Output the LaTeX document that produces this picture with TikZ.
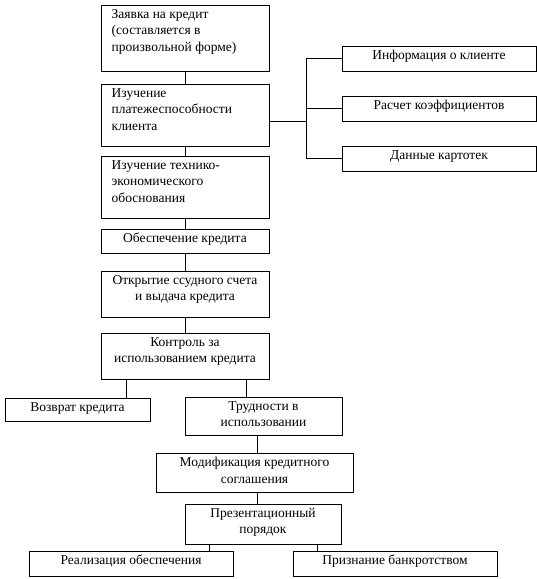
\documentclass[tikz,border=0pt]{standalone}
\usepackage{fontspec}
\setmainfont{Liberation Serif}
\usetikzlibrary{calc}

\begin{document}
\begin{tikzpicture}[x=1pt,y=-1pt,
  every node/.style={font=\fontsize{13.5}{16.5}\selectfont},
  box/.style={draw,line width=1pt,inner sep=0pt},
  ttl/.style={anchor=north,align=center,inner sep=0pt},
  ttll/.style={anchor=north west,align=left,inner sep=0pt},
  link/.style={line width=1pt}]
  \useasboundingbox (0,0) rectangle (537,579);
  % main column
  \node[box,minimum width=168,minimum height=66] (zayavka) at (185,38) {};
  \node[ttll] (zayavka-t) at ($(zayavka.north west)+(11,4.5)$) {Заявка на кредит\\(составляется в\\произвольной форме)};
  \node[box,minimum width=168,minimum height=62] (plat) at (185,115) {};
  \node[ttll] (plat-t) at ($(plat.north west)+(11,4.5)$) {Изучение\\платежеспособности\\клиента};
  \node[box,minimum width=168,minimum height=62] (teh) at (185,187) {};
  \node[ttll] (teh-t) at ($(teh.north west)+(11,4.5)$) {Изучение технико-\\экономического\\обоснования};
  \node[box,minimum width=168,minimum height=24] (obesp) at (185,241) {};
  \node[ttl] (obesp-t) at ($(obesp.north)+(0,4.5)$) {Обеспечение кредита};
  \node[box,minimum width=168,minimum height=46] (otkr) at (185,294) {};
  \node[ttl] (otkr-t) at ($(otkr.north)+(0,4.5)$) {Открытие ссудного счета\\и выдача кредита};
  \node[box,minimum width=168,minimum height=46] (kontr) at (185,356) {};
  \node[ttl] (kontr-t) at ($(kontr.north)+(0,4.5)$) {Контроль за\\использованием кредита};
  % right branch
  \node[box,minimum width=194,minimum height=25] (info) at (439,58.5) {};
  \node[ttl] (info-t) at ($(info.north)+(0,4.5)$) {Информация о клиенте};
  \node[box,minimum width=194,minimum height=25] (rasch) at (439,108.5) {};
  \node[ttl] (rasch-t) at ($(rasch.north)+(0,4.5)$) {Расчет коэффициентов};
  \node[box,minimum width=194,minimum height=25] (dann) at (439,158.5) {};
  \node[ttl] (dann-t) at ($(dann.north)+(0,4.5)$) {Данные картотек};
  % lower part
  \node[box,minimum width=145,minimum height=23] (vozvr) at (77.5,409.5) {};
  \node[ttl] (vozvr-t) at ($(vozvr.north)+(0,4.5)$) {Возврат кредита};
  \node[box,minimum width=157,minimum height=38] (trudn) at (263.5,416) {};
  \node[ttl] (trudn-t) at ($(trudn.north)+(0,4.5)$) {Трудности в\\использовании};
  \node[box,minimum width=197,minimum height=39] (modif) at (254.5,472.5) {};
  \node[ttl] (modif-t) at ($(modif.north)+(0,4.5)$) {Модификация кредитного\\соглашения};
  \node[box,minimum width=156,minimum height=40] (prez) at (263,524) {};
  \node[ttl] (prez-t) at ($(prez.north)+(0,4.5)$) {Презентационный\\порядок};
  \node[box,minimum width=204,minimum height=25] (real) at (131,563.5) {};
  \node[ttl] (real-t) at ($(real.north)+(0,4.5)$) {Реализация обеспечения};
  \node[box,minimum width=204,minimum height=25] (bankr) at (395,563.5) {};
  \node[ttl] (bankr-t) at ($(bankr.north)+(0,4.5)$) {Признание банкротством};
  % connectors
  \draw[link] (zayavka.south) -- (plat.north);
  \draw[link] (plat.south) -- (teh.north);
  \draw[link] (teh.south) -- (obesp.north);
  \draw[link] (obesp.south) -- (otkr.north);
  \draw[link] (otkr.south) -- (kontr.north);
  \coordinate (bus) at (306,121);
  \draw[link] (plat.east |- bus) -- (bus);
  \draw[link] (info.west) -| (bus |- dann.west) -- (dann.west);
  \draw[link] (rasch.west) -- (bus |- rasch.west);
  \coordinate (k1) at (126,0);
  \coordinate (k2) at (246,0);
  \draw[link] (kontr.south -| k1) -- (vozvr.north -| k1);
  \draw[link] (kontr.south -| k2) -- (trudn.north -| k2);
  \coordinate (m1) at (257,0);
  \draw[link] (trudn.south -| m1) -- (modif.north -| m1);
  \draw[link] (modif.south -| m1) -- (prez.north -| m1);
  \coordinate (p1) at (209,0);
  \coordinate (p2) at (317,0);
  \draw[link] (prez.south -| p1) -- (real.north -| p1);
  \draw[link] (prez.south -| p2) -- (bankr.north -| p2);
\end{tikzpicture}
\end{document}
